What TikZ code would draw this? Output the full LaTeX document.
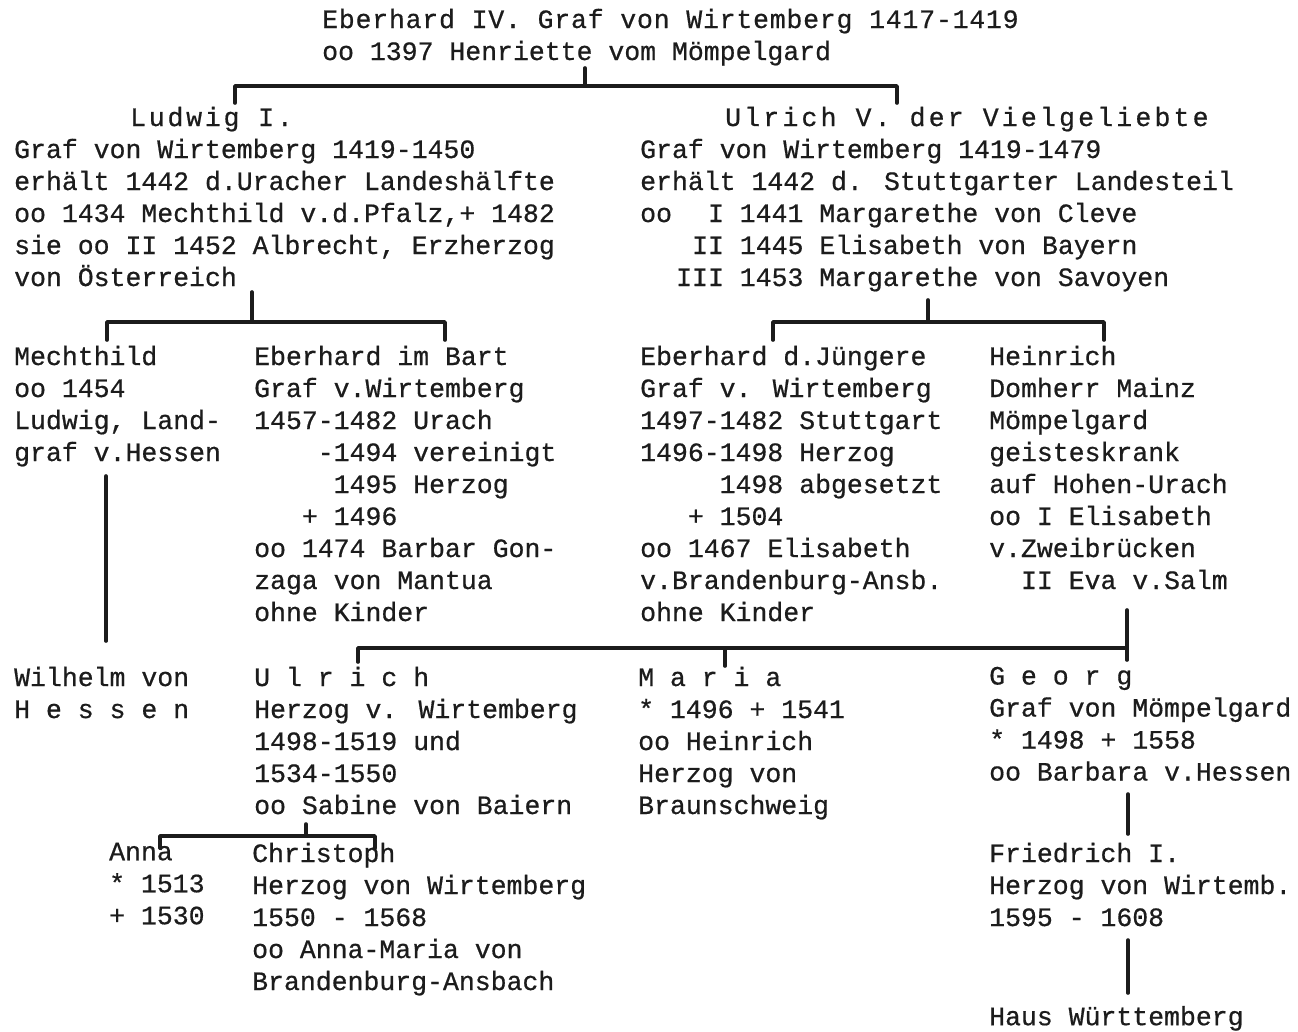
\documentclass[tikz,border=0pt]{standalone}
\usepackage{fontspec}
\newfontfamily\tw[FakeBold=0.6]{Liberation Mono}
\newfontfamily\twA[FakeBold=0.6,LetterSpace=3]{Liberation Mono}
\newfontfamily\twB[FakeBold=0.6,LetterSpace=10.5]{Liberation Mono}
\newfontfamily\twC[FakeBold=0.6,LetterSpace=12]{Liberation Mono}
\newcommand\chind[1]{\hspace*{\dimexpr 0.6em*#1\relax}}
\definecolor{ink}{HTML}{1C1C1C}
\begin{document}
\begin{tikzpicture}[x=1pt,y=-1pt,
  blk/.style={anchor=north west, yshift=22.4pt, inner sep=0pt, align=left,
    text=ink, font=\tw\fontsize{26.5}{32}\selectfont, execute at begin node=\strut},
  conn/.style={draw=ink, line width=3.6pt, line join=round, line cap=round}]
\fill[white] (0,0) rectangle (1298,1031);
\useasboundingbox (0,0) rectangle (1298,1031);

% generation 1
\node[blk] (eb4) at (322,31) {{\twA Eberhard IV. Graf von Wirtemberg 1417-1419}\\oo 1397 Henriette vom Mömpelgard};

% generation 2
\node[blk] (lud) at (14,129) {\hspace*{116pt}{\twB Ludwig I.}\\Graf von Wirtemberg 1419-1450\\erhält 1442 d.Uracher Landeshälfte\\oo 1434 Mechthild v.d.Pfalz,+ 1482\\sie oo II 1452 Albrecht, Erzherzog\\von Österreich};
\node[blk] (ulv) at (640,129) {\hspace*{85pt}{\twC Ulrich V. der Vielgeliebte}\\Graf von Wirtemberg 1419-1479\\erhält 1442 d. Stuttgarter Landesteil\\oo\hspace*{36pt}I 1441 Margarethe von Cleve\\\hspace*{52pt}II 1445 Elisabeth von Bayern\\\hspace*{36pt}III 1453 Margarethe von Savoyen};

% generation 3
\node[blk] (mech) at (14,368) {Mechthild\\oo 1454\\Ludwig, Land-\\graf v.Hessen};
\node[blk] (ebb) at (254,368) {Eberhard im Bart\\Graf v.Wirtemberg\\1457-1482 Urach\\\chind{4}-1494 vereinigt\\\chind{5}1495 Herzog\\\chind{3}+ 1496\\oo 1474 Barbar Gon-\\zaga von Mantua\\ohne Kinder};
\node[blk] (ebj) at (640,368) {Eberhard d.Jüngere\\Graf v. Wirtemberg\\1497-1482 Stuttgart\\1496-1498 Herzog\\\chind{5}1498 abgesetzt\\\chind{3}+ 1504\\oo 1467 Elisabeth\\v.Brandenburg-Ansb.\\ohne Kinder};
\node[blk] (hein) at (989,368) {Heinrich\\Domherr Mainz\\Mömpelgard\\geisteskrank\\auf Hohen-Urach\\oo I Elisabeth\\v.Zweibrücken\\\chind{2}II Eva v.Salm};

% generation 4
\node[blk] (wil) at (14,689) {Wilhelm von\\H e s s e n};
\node[blk] (ulr) at (254,689) {U l r i c h\\Herzog v. Wirtemberg\\1498-1519 und\\1534-1550\\oo Sabine von Baiern};
\node[blk] (mar) at (638,689) {M a r i a\\* 1496 + 1541\\oo Heinrich\\Herzog von\\Braunschweig};
\node[blk] (geo) at (989,689) {G e o r g\\Graf von Mömpelgard\\* 1498 + 1558\\oo Barbara v.Hessen};

% generation 5
\node[blk] (anna) at (109,865) {Anna\\* 1513\\+ 1530};
\node[blk] (chr) at (252,865) {Christoph\\Herzog von Wirtemberg\\1550 - 1568\\oo Anna-Maria von\\Brandenburg-Ansbach};
\node[blk] (fri) at (989,865) {Friedrich I.\\Herzog von Wirtemb.\\1595 - 1608};
\node[blk] (haus) at (989,1025) {Haus Württemberg};

% connector coordinates
\coordinate (eb4s) at (585,68);   \coordinate (b1m) at (585,86);
\coordinate (b1l) at (235,86);    \coordinate (b1r) at (897,86);
\coordinate (ludn) at (235,103);  \coordinate (ulvn) at (897,103);

\coordinate (luds) at (252,292);  \coordinate (b2m) at (252,322);
\coordinate (b2l) at (107,322);   \coordinate (b2r) at (445,322);
\coordinate (mechn) at (107,340); \coordinate (ebbn) at (445,340);

\coordinate (ulvs) at (928,300);  \coordinate (b3m) at (928,322);
\coordinate (b3l) at (773,322);   \coordinate (b3r) at (1104,322);
\coordinate (ebjn) at (773,340);  \coordinate (hein2) at (1104,340);

\coordinate (mechs) at (106,476); \coordinate (wiln) at (106,641);

\coordinate (heins) at (1127,610); \coordinate (b4r) at (1127,648);
\coordinate (b4l) at (358,648);    \coordinate (ulrn) at (358,662);
\coordinate (b4m) at (725,648);    \coordinate (marn) at (725,666);
\coordinate (geon) at (1127,660);

\coordinate (ulrs) at (306,824);  \coordinate (b5m) at (306,836);
\coordinate (b5l) at (160,836);   \coordinate (b5r) at (375,836);
\coordinate (annan) at (160,848); \coordinate (chrn) at (375,848);

\coordinate (geos) at (1128,794); \coordinate (frin) at (1128,834);
\coordinate (fris) at (1128,940); \coordinate (hausn) at (1128,993);

% connectors
\draw[conn] (eb4s) -- (b1m);
\draw[conn] (ludn) -- (b1l) -- (b1r) -- (ulvn);
\draw[conn] (luds) -- (b2m);
\draw[conn] (mechn) -- (b2l) -- (b2r) -- (ebbn);
\draw[conn] (ulvs) -- (b3m);
\draw[conn] (ebjn) -- (b3l) -- (b3r) -- (hein2);
\draw[conn] (mechs) -- (wiln);
\draw[conn] (heins) -- (geon);
\draw[conn] (ulrn) -- (b4l) -- (b4r);
\draw[conn] (b4m) -- (marn);
\draw[conn] (ulrs) -- (b5m);
\draw[conn] (annan) -- (b5l) -- (b5r) -- (chrn);
\draw[conn] (geos) -- (frin);
\draw[conn] (fris) -- (hausn);
\end{tikzpicture}
\end{document}
